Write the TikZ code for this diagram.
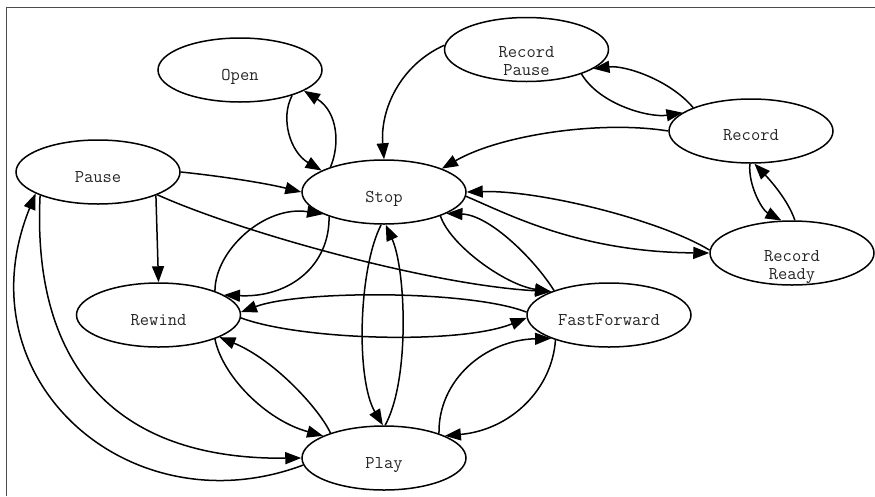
\documentclass[tikz,border=0pt]{standalone}
\usetikzlibrary{shapes.geometric,arrows.meta}
\begin{document}
\begin{tikzpicture}[x=1pt,y=-1pt,
  st/.style={draw,ellipse,line width=1.5pt,minimum width=164pt,minimum height=64pt,inner sep=0pt},
  lbl/.style={anchor=base,font=\ttfamily\fontsize{18}{17}\selectfont,inner sep=0pt,text=black!85},
  conn/.style={line width=1.5pt,-{Triangle[length=16pt,width=12pt]}}]
\useasboundingbox (0,0) rectangle (875,496);
\draw[line width=1pt, black!70] (6,496) -- (6,7) -- (875,7);
% states
\node[st] (open) at (240,70) {};
\node[st] (stop) at (384,192) {};
\node[st] (pause) at (98,172) {};
\node[st] (rp) at (526.5,49.5) {};
\node[st] (rec) at (751,131) {};
\node[st] (rr) at (792,253) {};
\node[st] (rew) at (158.5,315) {};
\node[st] (ff) at (609,315) {};
\node[st] (play) at (384,458) {};
% labels
\node[lbl] (topen) at ([yshift=-10.5pt]open.center) {Open};
\node[lbl] (tstop) at ([yshift=-10.5pt]stop.center) {Stop};
\node[lbl] (tpause) at ([yshift=-10.5pt]pause.center) {Pause};
\node[lbl] (trew) at ([yshift=-10.5pt]rew.center) {Rewind};
\node[lbl] (tff) at ([yshift=-10.5pt]ff.center) {FastForward};
\node[lbl] (tplay) at ([yshift=-10.5pt]play.center) {Play};
\node[lbl] (trec) at ([yshift=-9.5pt]rec.center) {Record};
\node[lbl] (trpa) at ([yshift=-8pt]rp.center) {Record};
\node[lbl] (trpb) at ([yshift=-26pt]rp.center) {Pause};
\node[lbl] (trra) at ([yshift=-8.5pt]rr.center) {Record};
\node[lbl] (trrb) at ([yshift=-26.5pt]rr.center) {Ready};
% transitions
\draw[conn] (stop.155) .. controls (340,145) and (338,112) .. (open.-18);
\draw[conn] (open.-26) .. controls (280,118) and (290,152) .. (stop.161);
\draw[conn] (rp.177) .. controls (400,65) and (380,110) .. (stop.90);
\draw[conn] (rec.158) .. controls (670,80) and (625,65) .. (rp.-16);
\draw[conn] (rp.-24) .. controls (600,105) and (650,118) .. (rec.165);
\draw[conn] (rec.180) .. controls (600,120) and (500,135) .. (stop.22);
\draw[conn] (rec.-92) .. controls (748,185) and (762,210) .. (rr.108);
\draw[conn] (rr.85) .. controls (788,200) and (770,180) .. (rec.-84);
\draw[conn] (rr.178) .. controls (660,220) and (540,190) .. (stop.0);
\draw[conn] (stop.-3) .. controls (510,215) and (580,252) .. (rr.180);
\draw[conn] (pause.0) .. controls (220,176) and (265,183) .. (stop.180);
\draw[conn] (pause.-22) -- (rew.90);
\draw[conn] (pause.-21) .. controls (240,232) and (430,285) .. (ff.158);
\draw[conn] (pause.-158) .. controls (32,360) and (110,460) .. (play.180);
\draw[conn] (play.185) .. controls (130,530) and (-40,380) .. (pause.-161);
\draw[conn] (rew.23) .. controls (215,250) and (265,205) .. (stop.-160);
\draw[conn] (stop.-156) .. controls (330,265) and (290,298) .. (rew.17);
\draw[conn] (stop.-95) .. controls (358,270) and (356,380) .. (play.92);
\draw[conn] (play.88) .. controls (410,380) and (406,270) .. (stop.-87);
\draw[conn] (ff.156) .. controls (535,260) and (490,215) .. (stop.-19);
\draw[conn] (stop.-23) .. controls (450,245) and (505,285) .. (ff.158);
\draw[conn] (ff.178) .. controls (470,290) and (300,290) .. (rew.2);
\draw[conn] (rew.-2) .. controls (300,340) and (460,345) .. (ff.182);
\draw[conn] (rew.-23) .. controls (222,375) and (265,420) .. (play.160);
\draw[conn] (play.155) .. controls (320,410) and (275,360) .. (rew.-20);
\draw[conn] (play.24) .. controls (438,380) and (485,340) .. (ff.-158);
\draw[conn] (ff.-155) .. controls (552,390) and (510,430) .. (play.20);
\end{tikzpicture}
\end{document}
